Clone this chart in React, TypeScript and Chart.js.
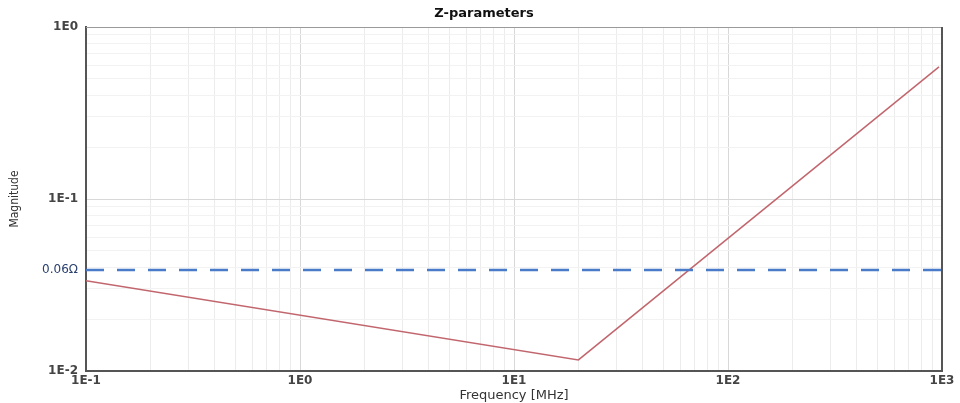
import React, { useEffect, useRef } from "react";
import { Chart, registerables } from "chart.js";

Chart.register(...registerables);

// Impedance curve
const frequencyMHz = [0.1, 20, 968];
const magnitude = [0.0335, 0.0116, 0.587];

// Threshold line (as placed in the picture) and its label
const thresholdFreq = [0.1, 1000];
const thresholdValue = 0.0386;
const thresholdLabel = "0.06Ω";

// Axis decades and their labels
const xDecades = [0.1, 1, 10, 100, 1000];
const xDecadeLabels = ["1E-1", "1E0", "1E1", "1E2", "1E3"];
const yDecades = [0.01, 0.1, 1];
const yDecadeLabels = ["1E-2", "1E-1", "1E0"];

const chartTitle = "Z-parameters";
const xTitle = "Frequency [MHz]";
const yTitle = "Magnitude";

const near = (a: number, b: number) => Math.abs(a - b) <= Math.abs(b) * 1e-6;

function logGrid(decades: number[]): number[] {
  const out: number[] = [];
  for (let i = 0; i < decades.length - 1; i++) {
    for (let k = 1; k <= 9; k++) out.push(k * decades[i]);
  }
  out.push(decades[decades.length - 1]);
  return out;
}

function labelFor(v: number, decs: number[], labels: string[]): string {
  for (let i = 0; i < decs.length; i++) if (near(v, decs[i])) return labels[i];
  return "";
}

const frameBorder = {
  id: "frameBorder",
  afterDatasetsDraw(chart: any) {
    const { ctx, chartArea } = chart;
    ctx.save();
    ctx.strokeStyle = "#9a9a9a";
    ctx.lineWidth = 1;
    ctx.beginPath();
    ctx.moveTo(chartArea.left, chartArea.top + 0.5);
    ctx.lineTo(chartArea.right, chartArea.top + 0.5);
    ctx.stroke();
    ctx.strokeStyle = "#555555";
    ctx.lineWidth = 2;
    ctx.beginPath();
    ctx.moveTo(chartArea.right, chartArea.top);
    ctx.lineTo(chartArea.right, chartArea.bottom);
    ctx.stroke();
    ctx.restore();
  },
};

export default function App() {
  const ref = useRef<HTMLCanvasElement>(null);

  useEffect(() => {
    if (!ref.current) return;
    const xGrid = logGrid(xDecades);
    const yGrid = logGrid(yDecades).concat([thresholdValue]).sort((a, b) => a - b);

    const chart = new Chart(ref.current, {
      type: "line",
      data: {
        datasets: [
          {
            label: "threshold",
            data: thresholdFreq.map((f) => ({ x: f, y: thresholdValue })),
            borderColor: "#4a7bc8",
            borderWidth: 2.5,
            borderDash: [18, 13],
            pointRadius: 0,
            xAxisID: "x",
            yAxisID: "y",
          },
          {
            label: "Z",
            data: frequencyMHz.map((f, i) => ({ x: f, y: magnitude[i] })),
            borderColor: "#c2666e",
            borderWidth: 1.5,
            pointRadius: 0,
            xAxisID: "x",
            yAxisID: "y",
          },
        ],
      },
      options: {
        responsive: false,
        animation: false,
        layout: { padding: { left: 8, right: 0, top: 0, bottom: 0 } },
        plugins: {
          legend: { display: false },
          tooltip: { enabled: false },
          title: {
            display: true,
            text: chartTitle,
            color: "#111",
            font: { family: "DejaVu Sans", size: 13, weight: "bold" },
            padding: { top: 6, bottom: 5.4 },
          },
        },
        scales: {
          x: {
            type: "logarithmic",
            position: "bottom",
            min: 0.1,
            max: 1000,
            afterBuildTicks: (s: any) => {
              s.ticks = xGrid.map((v) => ({ value: v }));
            },
            afterFit: (s: any) => {
              s.height = 32;
            },
            grid: {
              drawTicks: false,
              lineWidth: 1,
              color: (c: any) =>
                c.tick && xDecades.some((d) => near(c.tick.value, d)) ? "#d8d8d8" : "#ececec",
            },
            border: { display: true, color: "#555", width: 2 },
            ticks: {
              autoSkip: false,
              maxRotation: 0,
              padding: 3,
              color: "#444",
              font: { family: "DejaVu Sans", size: 12, weight: "bold" },
              callback: (v: any) => labelFor(Number(v), xDecades, xDecadeLabels),
            },
            title: {
              display: true,
              text: xTitle,
              color: "#333",
              font: { family: "DejaVu Sans", size: 13 },
              padding: { top: 3, bottom: 0 },
            },
          },
          y: {
            type: "logarithmic",
            position: "left",
            min: 0.01,
            max: 1,
            afterBuildTicks: (s: any) => {
              s.ticks = yGrid.map((v) => ({ value: v }));
            },
            afterFit: (s: any) => {
              s.width = 78;
            },
            grid: {
              drawTicks: false,
              lineWidth: 1,
              color: (c: any) => {
                if (!c.tick) return "#f2f2f2";
                if (near(c.tick.value, thresholdValue)) return "rgba(0,0,0,0)";
                return yDecades.some((d) => near(c.tick.value, d)) ? "#d8d8d8" : "#f2f2f2";
              },
            },
            border: { display: true, color: "#555", width: 2 },
            ticks: {
              autoSkip: false,
              padding: 8,
              color: (c: any) =>
                c.tick && near(c.tick.value, thresholdValue) ? "#2a4170" : "#444",
              font: (c: any) =>
                c.tick && near(c.tick.value, thresholdValue)
                  ? { family: "DejaVu Sans", size: 12, weight: "normal" }
                  : { family: "DejaVu Sans", size: 12, weight: "bold" },
              callback: (v: any) => {
                const n = Number(v);
                if (near(n, thresholdValue)) return thresholdLabel;
                return labelFor(n, yDecades, yDecadeLabels);
              },
            },
            title: {
              display: true,
              text: yTitle,
              color: "#333",
              font: { family: "DejaVu Sans Condensed", size: 12 },
              padding: { top: 0, bottom: 0 },
            },
          },
          yR: {
            type: "linear",
            position: "right",
            display: true,
            grid: { display: false, drawTicks: false },
            border: { display: false },
            ticks: { display: false },
            afterFit: (s: any) => {
              s.width = 18;
            },
          },
        },
      },
      plugins: [frameBorder],
    } as any);

    return () => chart.destroy();
  }, []);

  return (
    <canvas
      ref={ref}
      width={960}
      height={403}
      style={{ position: "absolute", left: 0, top: 0, display: "block" }}
    />
  );
}
